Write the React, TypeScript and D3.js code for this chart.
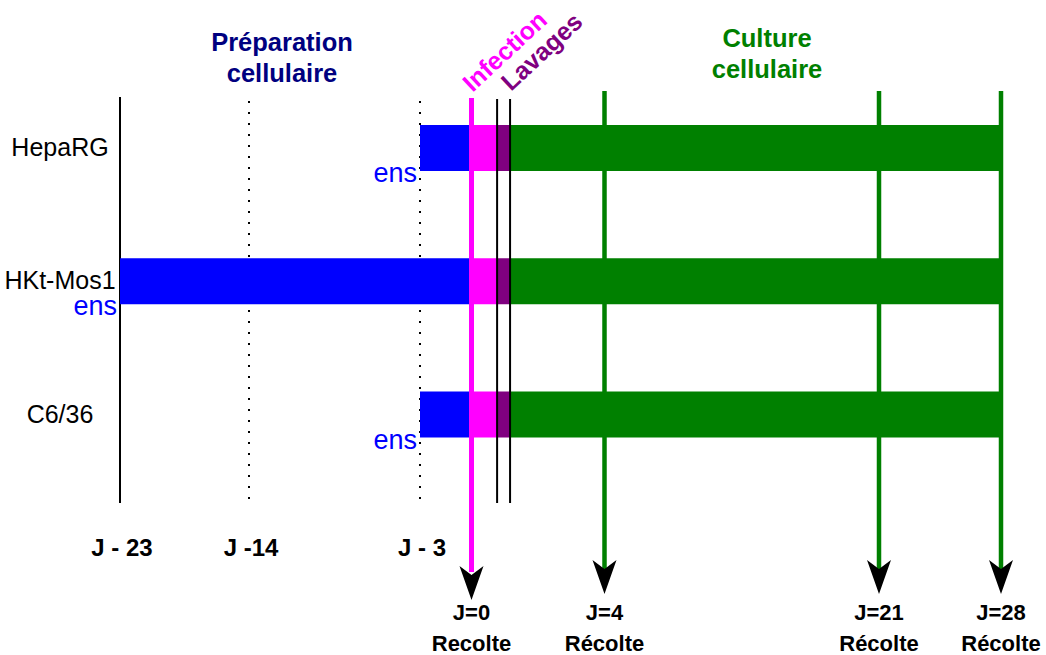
import React from "react";
import * as d3 from "d3";

// ---- data ----
const cellLines = ["HepaRG", "HKt-Mos1", "C6/36"];
const seedingDay = [-3, -23, -3];
const infectionDay = 0;
const lavageStart = 0.77;
const lavageEnd = 1.16;
const endDay = 28;

const prepTickDays = [-23, -14, -3];
const prepTickLabels = ["J - 23", "J -14", "J - 3"];
const prepTickSolid = [true, false, false];

const harvestDays = [0, 4, 21, 28];
const harvestLabels = ["J=0", "J=4", "J=21", "J=28"];
const harvestSubLabels = ["Recolte", "Récolte", "Récolte", "Récolte"];

const BLUE = "#0000ff";
const PINK = "#ff00ff";
const PURPLE = "#800080";
const GREEN = "#008000";
const NAVY = "#000080";
const FONT = "'Liberation Sans', Arial, sans-serif";

export default function App() {
  const W = 1046;
  const H = 655;
  // schematic (non-proportional) time axis: piecewise linear scale
  const x = d3
    .scaleLinear()
    .domain([-23, -14, -3, 0, 4, 21, 28])
    .range([120, 249, 420, 471.5, 604.5, 879, 1001]);
  const y = d3.scalePoint<string>().domain(cellLines).range([148, 414.5]);
  const barH = 46;

  const arrowHead = (cx: number, tip: number) =>
    `M${cx},${tip} L${cx - 12},${tip - 34} L${cx},${tip - 25} L${cx + 12},${tip - 34} Z`;

  const tipY = 594;

  return (
    <svg
      width={W}
      height={H}
      style={{ position: "absolute", left: 0, top: 0, background: "#fff" }}
      fontFamily={FONT}
    >
      {/* prep tick vertical lines */}
      {prepTickDays.map((d, i) => (
        <line
          key={"pt" + i}
          x1={x(d)}
          x2={x(d)}
          y1={prepTickSolid[i] ? 97 : 101}
          y2={503}
          stroke="#000"
          strokeWidth={2}
          strokeDasharray={prepTickSolid[i] ? undefined : "2,9"}
        />
      ))}

      {/* bars */}
      {cellLines.map((c, i) => {
        const yc = y(c)!;
        const top = yc - barH / 2;
        return (
          <g key={c}>
            <rect x={x(seedingDay[i])} y={top} width={x(infectionDay) - 2 - x(seedingDay[i])} height={barH} fill={BLUE} />
            <rect x={x(infectionDay) - 2} y={top} width={x(lavageStart) - x(infectionDay) + 2} height={barH} fill={PINK} />
            <rect x={x(lavageStart)} y={top} width={x(lavageEnd) - x(lavageStart)} height={barH} fill={PURPLE} />
            <rect x={x(lavageEnd)} y={top} width={x(endDay) - 2 - x(lavageEnd)} height={barH} fill={GREEN} />
            <text x={60} y={yc + 8} textAnchor="middle" fontSize={25} fill="#000">
              {c}
            </text>
            <text x={x(seedingDay[i]) - 3} y={top + barH + 11} textAnchor="end" fontSize={27} fill={BLUE}>
              ens
            </text>
          </g>
        );
      })}

      {/* lavage lines */}
      {[lavageStart, lavageEnd].map((d, i) => (
        <line key={"lv" + i} x1={x(d)} x2={x(d)} y1={99} y2={503} stroke="#000" strokeWidth={2} />
      ))}

      {/* harvest lines + arrows */}
      {harvestDays.map((d, i) => {
        const cx = x(d);
        const isInf = d === infectionDay;
        return (
          <g key={"hv" + i}>
            <line
              x1={cx}
              x2={cx}
              y1={isInf ? 98 : 91}
              y2={tipY - 22}
              stroke={isInf ? PINK : GREEN}
              strokeWidth={isInf ? 5 : 4.5}
            />
            <path d={arrowHead(cx, isInf ? tipY + 6 : tipY)} fill="#000" />
            <text x={cx} y={620} textAnchor="middle" fontSize={22} fontWeight="bold">
              {harvestLabels[i]}
            </text>
            <text x={cx} y={651} textAnchor="middle" fontSize={22} fontWeight="bold">
              {harvestSubLabels[i]}
            </text>
          </g>
        );
      })}

      {/* prep tick labels */}
      {prepTickDays.map((d, i) => (
        <text key={"pl" + i} x={x(d) + 2} y={556} textAnchor="middle" fontSize={24} fontWeight="bold">
          {prepTickLabels[i]}
        </text>
      ))}

      {/* section titles */}
      <text x={282} y={51} textAnchor="middle" fontSize={25.5} fontWeight="bold" fill={NAVY}>
        Préparation
      </text>
      <text x={282} y={82} textAnchor="middle" fontSize={25.5} fontWeight="bold" fill={NAVY}>
        cellulaire
      </text>
      <text x={767} y={47} textAnchor="middle" fontSize={25.5} fontWeight="bold" fill={GREEN}>
        Culture
      </text>
      <text x={767} y={78} textAnchor="middle" fontSize={25.5} fontWeight="bold" fill={GREEN}>
        cellulaire
      </text>

      {/* rotated phase labels */}
      <text
        transform={`translate(${x(infectionDay) + 1},${93}) rotate(-43)`}
        fontSize={25}
        fontWeight="bold"
        fill={PINK}
      >
        Infection
      </text>
      <text
        transform={`translate(${x(lavageStart) + 14},${92}) rotate(-43)`}
        fontSize={25}
        fontWeight="bold"
        fill={PURPLE}
      >
        Lavages
      </text>
    </svg>
  );
}
